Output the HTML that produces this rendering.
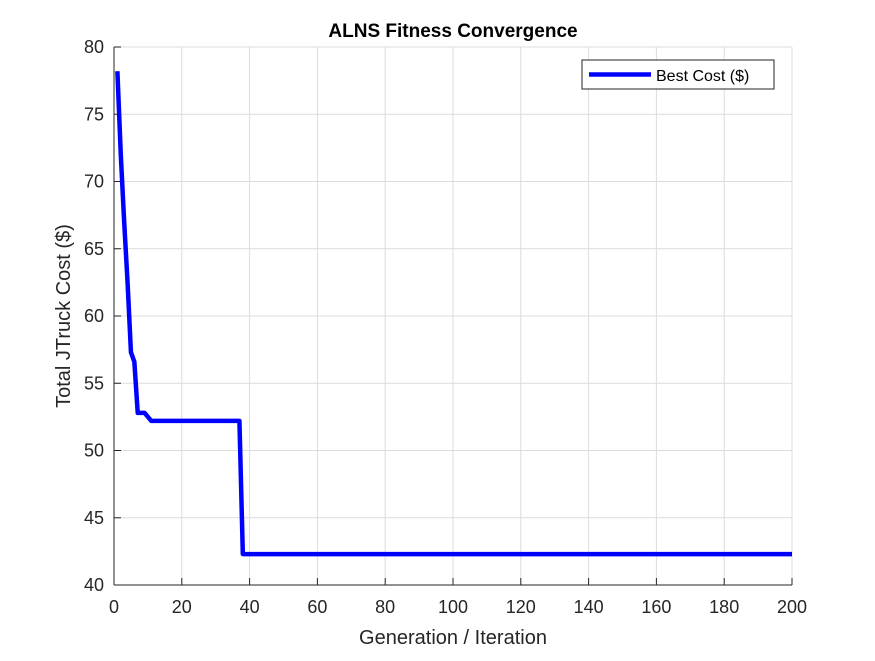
<!DOCTYPE html>
<html><head><meta charset="utf-8"><style>
body{margin:0;background:#fff;}
svg text{font-family:"Liberation Sans",Arial,sans-serif;fill:#262626;}
</style></head><body>
<svg id="chart" width="875" height="656" xmlns="http://www.w3.org/2000/svg">
<rect width="875" height="656" fill="#fff"/>
<rect x="114" y="47" width="678" height="538" fill="#fff"/>
<g id="grid"></g><g id="ticks"></g>
<path id="line" fill="none" stroke="#0000ff" stroke-width="4.5" stroke-linejoin="round"/>
<line x1="114" y1="47" x2="114" y2="585" stroke="#262626"/>
<line x1="114" y1="585" x2="792" y2="585" stroke="#262626"/>
<text x="453" y="37" text-anchor="middle" font-weight="bold" font-size="19" style="fill:#000">ALNS Fitness Convergence</text>
<text x="453" y="644" text-anchor="middle" font-size="20">Generation / Iteration</text>
<text transform="translate(70,316) rotate(-90)" text-anchor="middle" font-size="20">Total JTruck Cost ($)</text>
<g>
<rect x="582" y="60" width="192" height="29" fill="#fff" stroke="#262626"/>
<line x1="589" y1="74.5" x2="651" y2="74.5" stroke="#0000ff" stroke-width="4.5"/>
<text x="656" y="81" font-size="16" style="fill:#000">Best Cost ($)</text>
</g>
</svg>
<script>
const iterations=[1,2,3,4,5,6,7,9,11,37,38,200];
const bestCost=[78.2,72,67,62.5,57.3,56.6,52.8,52.8,52.2,52.2,42.3,42.3];
const xTicks=[0,20,40,60,80,100,120,140,160,180,200];
const yTicks=[40,45,50,55,60,65,70,75,80];
const X=v=>114+v/200*678, Y=v=>585-(v-40)/40*538;
const ns="http://www.w3.org/2000/svg";
const grid=document.getElementById('grid'), ticks=document.getElementById('ticks');
function mk(tag,attrs,parent){const e=document.createElementNS(ns,tag);for(const k in attrs)e.setAttribute(k,attrs[k]);parent.appendChild(e);return e;}
xTicks.forEach(t=>{
  const g=mk('line',{x1:X(t),x2:X(t),y1:47,y2:585,stroke:'#dcdcdc'},grid);
  
  
  const tk=mk('line',{x1:X(t),x2:X(t),y1:585,y2:578,stroke:'#262626'},ticks);
  
  
  const l=mk('text',{x:X(t),y:613,'text-anchor':'middle','font-size':'18'},ticks);
  l.textContent=t;
  
  
});
yTicks.forEach(t=>{
  const g=mk('line',{x1:114,x2:792,y1:Y(t),y2:Y(t),stroke:'#dcdcdc'},grid);
  
  
  const tk=mk('line',{x1:114,x2:121,y1:Y(t),y2:Y(t),stroke:'#262626'},ticks);
  
  
  const l=mk('text',{x:104,y:Y(t)+6,'text-anchor':'end','font-size':'18'},ticks);
  l.textContent=t;
  
  
});
document.getElementById('line').setAttribute('d',iterations.map((it,i)=>(i?'L':'M')+X(it)+','+Y(bestCost[i])).join(''));
</script>
</body></html>
